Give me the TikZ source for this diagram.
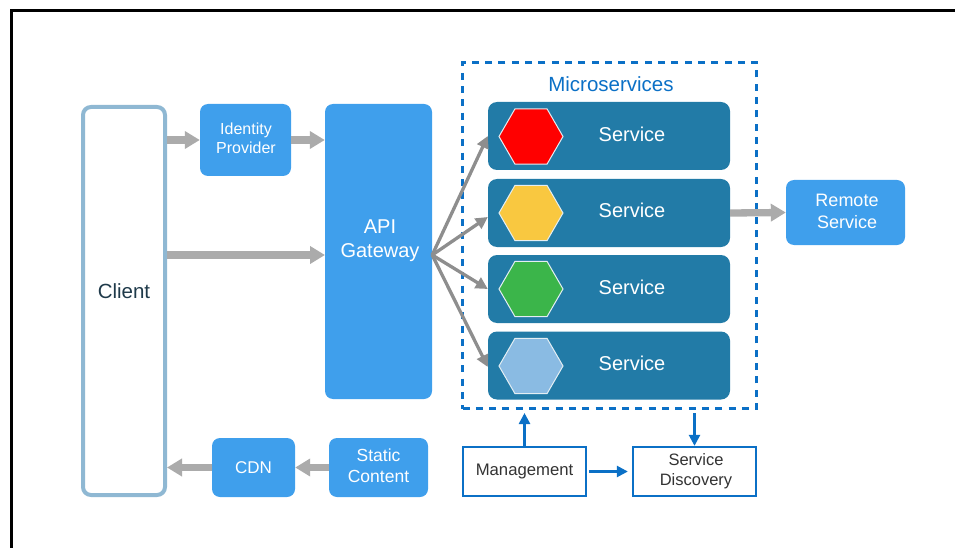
\documentclass[tikz,border=0pt]{standalone}
\usepackage{fontspec}
\setmainfont{Liberation Sans}
\usepackage{tikz}
\usetikzlibrary{arrows.meta}
\usetikzlibrary{shapes.geometric}
\definecolor{boxblue}{HTML}{3F9FEC}
\definecolor{svcblue}{HTML}{227BA7}
\definecolor{linkblue}{HTML}{0B70C6}
\definecolor{clientedge}{HTML}{8FB8D3}
\definecolor{clientink}{HTML}{1F3A4A}
\definecolor{darkink}{HTML}{333333}
\definecolor{widegrey}{HTML}{ABABAB}
\definecolor{fangrey}{HTML}{8E8E8E}
\definecolor{hexyellow}{HTML}{F9C840}
\definecolor{hexgreen}{HTML}{3BB54A}
\definecolor{hexsky}{HTML}{8ABBE3}
\definecolor{hexedge}{HTML}{E4EEF3}
\tikzset{
    bluebox/.style={shape=rectangle, rounded corners=8pt, fill=boxblue, text=white, align=center, inner sep=0pt},
    svcbox/.style={shape=rectangle, rounded corners=9pt, fill=svcblue, draw=none, minimum width=242pt, minimum height=68pt, inner sep=0pt},
    hexa/.style={shape=regular polygon, regular polygon sides=6, minimum size=64pt, inner sep=0pt, draw=hexedge, line width=1pt},
    svctext/.style={text=white, font=\fontsize{20}{24}\selectfont, inner sep=0pt},
    plainbox/.style={shape=rectangle, draw=linkblue, line width=2.3pt, fill=white, text=darkink, align=center, minimum width=123pt, minimum height=49pt, inner sep=0pt},
    widearrow/.style={draw=widegrey, line width=7.3pt, -{Triangle[length=15pt,width=17pt]}},
    fanarrow/.style={draw=fangrey, line width=3.3pt, -{Triangle[length=12pt,width=12pt]}},
    linkarrow/.style={draw=linkblue, line width=2.5pt, -{Triangle[length=11pt,width=11pt]}}}
\begin{document}
\begin{tikzpicture}[x=1pt, y=-1pt]

            \useasboundingbox (0,0) rectangle (955,548);
            \draw[line width=3pt, black] (11,548) -- (11,11) -- (955,11);

            \node[shape=rectangle, rounded corners=8pt, draw=clientedge, line width=4pt, minimum width=82pt, minimum height=388pt, inner sep=0pt] (client) at (124,301) {};
            \node[text=clientink, font=\fontsize{20.5}{24}\selectfont, inner sep=0pt] (clienttext) at (124,291) {Client};
            \node[bluebox, minimum width=91pt, minimum height=72pt] (identity) at (245.5,140) {};
            \node[text=white, align=center, font=\fontsize{16}{19}\selectfont, inner sep=0pt] (identitytext) at (246,138) {Identity\\Provider};
            \node[bluebox, minimum width=107pt, minimum height=295pt] (api) at (378.5,251.5) {};
            \node[text=white, align=center, font=\fontsize{20}{24}\selectfont, inner sep=0pt] (apitext) at (380,241) {API\\Gateway};
            \node[bluebox, minimum width=119pt, minimum height=65pt] (remote) at (845.5,212.5) {};
            \node[text=white, align=center, font=\fontsize{18}{22}\selectfont, inner sep=0pt] (remotetext) at (847,211) {Remote\\Service};
            \node[bluebox, minimum width=83pt, minimum height=59pt, font=\fontsize{17}{21}\selectfont] (cdn) at (253.5,467.5) {CDN};
            \node[bluebox, minimum width=99pt, minimum height=59pt] (static) at (378.5,467.5) {};
            \node[text=white, align=center, font=\fontsize{17.5}{21}\selectfont, inner sep=0pt] (statictext) at (378.5,466) {Static\\Content};

            \node[shape=rectangle, draw=linkblue, line width=2.3pt, dash pattern=on 7pt off 6.3pt, minimum width=294pt, minimum height=346pt, inner sep=0pt] (micro) at (609.5,235.5) {};
            \node[text=linkblue, font=\fontsize{20.5}{25}\selectfont, inner sep=0pt] (microtext) at (611,84) {Microservices};

            \node[svcbox] (svca) at (609,136) {};
            \node[svcbox] (svcb) at (609,213) {};
            \node[svcbox] (svcc) at (609,289) {};
            \node[svcbox] (svcd) at (609,365.5) {};
            \node[hexa, fill=red] (hexa) at (531,136.5) {};
            \node[hexa, fill=hexyellow] (hexb) at (531,213) {};
            \node[hexa, fill=hexgreen] (hexc) at (531,289) {};
            \node[hexa, fill=hexsky] (hexd) at (531,366) {};
            \node[svctext] (texta) at (632,134) {Service};
            \node[svctext] (textb) at (632,210) {Service};
            \node[svctext] (textc) at (632,287) {Service};
            \node[svctext] (textd) at (632,363) {Service};

            \node[plainbox, font=\fontsize{16.7}{20}\selectfont] (manage) at (524.5,471.5) {Management};
            \node[plainbox] (discovery) at (694.5,471.5) {};
            \node[text=darkink, align=center, font=\fontsize{16.5}{20.5}\selectfont, inner sep=0pt] (discoverytext) at (696,471) {Service\\Discovery};

            \coordinate (gwin) at (325,255);
            \coordinate (manageup) at (524.5,413);
            \coordinate (discdown) at (694.5,413);

            \draw[widearrow] (client.east |- identity.west) -- (identity.west);
            \draw[widearrow] (identity.east) -- (api.west |- identity.east);
            \draw[widearrow] (client.east |- gwin) -- (gwin);
            \draw[widearrow] (svcb.east) -- (remote.west);
            \draw[widearrow] (static.west) -- (cdn.east);
            \draw[widearrow] (cdn.west) -- (client.east |- cdn.west);

            \draw[fanarrow] (api.east |- gwin) -- (svca.west);
            \draw[fanarrow] (api.east |- gwin) -- ([yshift=-4pt]svcb.west);
            \draw[fanarrow] (api.east |- gwin) -- (svcc.west);
            \draw[fanarrow] (api.east |- gwin) -- ([yshift=-1.5pt]svcd.west);

            \draw[linkarrow] (manage.north) -- (manageup);
            \draw[linkarrow] (discdown) -- (discovery.north);
            \draw[linkarrow, shorten <=2pt, shorten >=4pt] (manage.east) -- (discovery.west);

        \end{tikzpicture}
\end{document}
